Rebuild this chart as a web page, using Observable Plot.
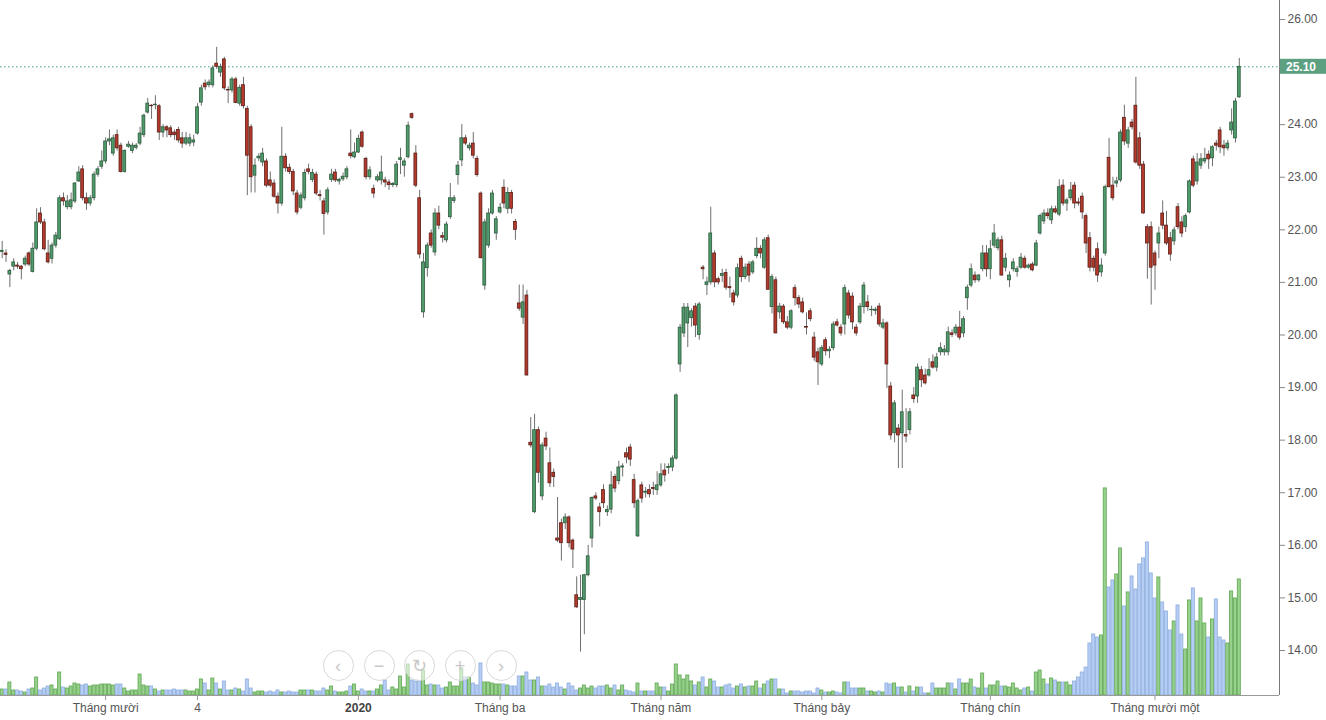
<!DOCTYPE html>
<html><head><meta charset="utf-8">
<script src="https://cdn.jsdelivr.net/npm/d3@7"></script>
<script src="https://cdn.jsdelivr.net/npm/@observablehq/plot@0.6"></script>
<style>
html,body{margin:0;padding:0;background:#fff;}
#wrap{position:relative;width:1326px;height:720px;overflow:hidden;background:#fff;}
#wrap svg{position:absolute;left:0;top:0;}
.zb{position:absolute;width:31px;height:31px;border-radius:50%;border:1px solid #d9d9d9;background:rgba(255,255,255,0.55);color:#c8c8c8;font:18px/30px "Liberation Sans",Arial,sans-serif;text-align:center;box-sizing:border-box;}
</style></head><body><div id="wrap"></div>
<script>
// ---- data ----
const opens = [
21.58,21.55,21.15,21.30,21.32,21.30,21.34,21.55,21.20,21.64,
22.31,22.14,21.55,21.45,21.70,21.82,22.60,22.43,22.43,22.54,
22.92,23.15,22.60,22.50,22.60,23.05,23.20,23.30,23.68,23.45,
23.80,23.60,23.10,23.58,23.50,23.56,23.64,23.80,24.23,24.36,
24.37,24.35,23.85,23.95,23.93,23.85,23.90,23.74,23.64,23.64,
23.66,23.83,24.42,24.78,24.75,24.75,25.16,24.99,25.24,24.66,
24.65,24.86,24.40,24.75,24.30,23.95,23.03,23.36,23.28,23.30,
22.94,22.88,22.63,22.50,23.39,23.18,23.10,22.69,22.42,22.60,
23.15,22.95,23.05,22.66,22.54,22.33,22.95,23.09,22.92,22.96,
23.00,23.45,23.38,23.47,23.85,23.35,23.00,22.78,22.94,22.94,
22.94,22.90,22.85,22.85,23.33,23.22,23.38,24.20,23.45,22.60,
20.43,21.27,21.93,21.57,22.31,21.88,21.80,22.24,22.55,23.04,
23.32,23.74,23.55,23.64,23.35,22.69,20.94,21.70,22.31,21.93,
22.33,22.80,22.40,22.70,22.15,20.60,20.33,20.75,17.95,16.63,
18.19,16.93,18.03,17.56,17.38,16.13,16.42,16.42,16.53,16.09,
15.05,14.96,14.96,15.43,16.13,16.93,16.72,17.05,16.63,16.68,
17.30,17.22,17.48,17.75,17.86,17.24,16.17,17.14,17.00,17.05,
17.09,17.05,17.14,17.42,17.47,17.48,17.65,19.44,20.03,20.22,
20.32,20.54,20.00,21.28,20.95,21.00,21.55,21.06,21.12,21.18,
20.91,20.79,20.75,21.45,21.10,21.34,21.19,21.50,21.64,21.28,
21.84,20.53,21.04,20.43,20.54,20.24,20.14,20.89,20.70,20.62,
20.15,20.45,19.95,19.67,19.44,19.90,19.69,19.75,20.24,20.14,
20.20,20.79,20.73,20.14,20.24,20.53,20.62,20.47,20.46,20.54,
20.14,20.22,19.02,18.13,18.22,18.13,18.10,18.19,18.85,18.83,
19.33,19.23,19.23,19.48,19.38,19.67,19.67,19.67,20.03,20.03,
20.14,20.03,20.70,20.94,21.13,21.04,21.25,21.55,21.25,21.70,
21.65,21.80,21.28,21.04,21.25,21.20,21.28,21.45,21.28,21.34,
21.32,21.93,22.16,22.31,22.18,22.39,22.29,22.84,22.50,22.60,
22.84,22.52,22.63,22.26,21.84,21.45,21.63,21.19,21.55,23.37,
22.84,22.88,22.94,24.13,23.64,24.04,24.36,23.74,23.24,22.05,
22.05,21.55,21.74,22.31,22.08,21.84,21.78,22.43,22.14,22.05,
22.33,23.34,22.92,23.22,23.30,23.43,23.36,23.64,23.89,23.60,
23.55,23.89,23.74,24.52];
const highs = [
21.78,21.62,21.25,21.45,21.38,21.32,21.50,21.58,21.75,22.40,
22.42,22.20,21.80,21.75,21.95,22.65,22.70,22.65,22.70,22.90,
23.20,23.22,22.70,22.65,23.10,23.20,23.50,23.75,23.90,23.80,
23.90,23.65,23.52,23.68,23.65,23.64,23.95,24.20,24.50,24.38,
24.55,24.38,24.00,23.98,23.98,23.90,23.95,23.85,23.85,23.82,
23.80,24.40,24.75,24.85,24.85,25.12,25.47,25.15,25.28,24.72,
24.90,24.90,24.75,24.90,24.35,24.00,23.35,23.45,23.55,23.35,
23.10,22.95,22.70,23.95,23.45,23.25,23.15,22.75,22.70,23.15,
23.25,23.15,23.10,22.75,22.60,22.80,23.15,23.15,22.98,23.08,
23.20,23.90,23.65,23.80,23.88,23.38,23.20,22.85,23.05,23.40,
23.00,22.95,22.90,23.30,23.55,23.35,24.05,24.22,23.60,22.75,
21.55,21.75,22.00,22.40,22.45,21.95,22.15,22.88,22.65,23.30,
24.00,23.80,23.65,23.85,23.40,22.72,22.20,22.40,22.75,22.25,
22.50,22.95,22.80,22.75,22.20,20.95,20.95,20.85,18.43,18.49,
18.25,17.95,18.15,17.85,17.45,16.91,16.50,16.60,16.56,16.12,
15.40,15.43,15.45,16.00,16.92,17.00,16.80,17.15,16.75,17.40,
17.35,17.60,17.55,17.85,17.92,17.35,16.88,17.20,17.10,17.15,
17.20,17.40,17.55,17.55,17.55,17.70,18.88,20.20,20.60,20.60,
20.50,20.60,20.62,21.32,21.10,22.43,21.60,21.10,21.25,21.25,
21.10,20.85,21.35,21.50,21.35,21.40,21.42,21.85,21.70,21.85,
21.90,21.15,21.10,20.60,20.58,20.35,20.48,20.95,20.75,20.70,
20.42,20.50,20.05,19.75,19.80,19.95,19.78,20.25,20.30,20.20,
20.95,20.85,20.80,20.20,20.60,21.00,20.75,20.55,20.52,20.60,
20.30,20.25,19.10,18.75,18.30,18.95,18.60,18.60,19.00,19.45,
19.40,19.35,19.55,19.62,19.65,19.85,19.80,20.15,20.10,20.20,
20.45,20.35,20.95,21.35,21.20,21.15,21.70,21.70,21.80,22.10,
21.85,21.88,21.55,21.20,21.45,21.30,21.55,21.50,21.35,21.38,
21.80,22.30,22.38,22.40,22.45,22.45,22.95,22.95,22.60,22.90,
22.90,22.60,22.70,22.30,21.95,21.50,21.75,21.45,22.85,23.74,
23.00,23.00,23.90,24.37,23.95,24.10,24.90,23.85,23.30,22.10,
22.15,21.60,22.05,22.55,22.35,21.95,22.05,22.50,22.25,22.30,
22.95,23.40,23.45,23.45,23.55,23.50,23.60,23.70,23.95,23.70,
23.70,24.30,24.50,25.26];
const lows = [
21.45,21.38,20.90,21.22,21.25,21.05,21.30,21.30,21.18,21.60,
22.10,21.60,21.35,21.35,21.65,21.80,22.45,22.38,22.38,22.50,
22.90,22.55,22.37,22.45,22.55,23.00,23.15,23.25,23.60,23.40,
23.50,23.08,23.08,23.55,23.45,23.52,23.60,23.75,24.20,24.10,
24.28,23.70,23.75,23.75,23.75,23.70,23.65,23.55,23.60,23.58,
23.58,23.80,24.35,24.65,24.70,24.70,25.05,24.90,24.65,24.40,
24.60,24.40,24.35,24.30,22.65,22.70,22.70,23.30,23.20,22.80,
22.80,22.60,22.30,22.45,23.10,23.05,22.65,22.28,22.38,22.55,
23.05,22.90,22.65,22.55,21.90,22.28,22.90,22.90,22.85,22.92,
22.95,23.35,23.35,23.45,23.55,22.95,22.95,22.60,22.90,22.85,
22.80,22.75,22.80,22.80,23.05,23.00,23.35,24.10,22.80,21.45,
20.32,21.10,21.65,21.50,22.00,21.75,21.75,22.20,22.50,22.85,
23.20,23.60,23.50,23.35,23.00,21.45,20.85,21.65,22.28,21.80,
22.30,22.40,22.30,22.30,21.80,20.45,20.20,19.22,17.85,16.60,
17.18,16.85,17.80,17.10,17.10,16.05,15.70,16.30,15.95,15.56,
14.80,13.97,14.30,15.40,15.95,16.85,16.35,16.70,16.55,16.60,
17.00,17.15,17.30,17.55,17.50,16.70,16.15,16.80,16.90,16.90,
16.95,16.95,17.10,17.20,17.35,17.40,17.62,19.29,19.95,19.76,
20.15,19.95,19.90,21.05,20.75,20.95,20.90,20.95,21.00,20.85,
20.70,20.55,20.70,21.00,21.05,21.00,21.15,21.45,21.45,21.25,
20.85,20.40,20.02,20.30,20.20,20.10,20.10,20.55,20.50,20.40,
20.00,20.25,19.50,19.04,19.40,19.60,19.55,19.70,20.15,19.98,
20.00,20.30,20.10,19.98,20.20,20.40,20.45,20.35,20.38,20.15,
20.10,18.98,18.00,17.95,17.46,17.46,17.95,18.10,18.70,18.70,
19.00,19.05,19.20,19.35,19.30,19.60,19.60,19.60,19.95,19.98,
19.90,19.95,20.47,20.90,20.98,21.00,21.20,21.10,21.05,21.65,
21.60,21.12,21.20,20.90,21.20,21.10,21.25,21.25,21.25,21.20,
21.30,21.90,22.10,22.20,22.10,22.30,22.25,22.45,22.35,22.55,
22.40,22.45,22.20,21.55,21.20,21.20,21.00,21.10,21.50,22.80,
22.55,22.80,22.90,23.60,23.55,23.90,23.25,23.15,22.30,21.06,
20.57,20.85,21.45,22.00,21.70,21.40,21.70,22.00,21.85,21.95,
22.30,22.80,22.85,23.15,23.25,23.15,23.20,23.50,23.45,23.40,
23.50,23.80,23.65,24.50];
const closes = [
21.60,21.52,21.22,21.38,21.30,21.25,21.45,21.34,21.64,22.14,
22.14,21.63,21.38,21.70,21.89,22.60,22.54,22.54,22.56,22.88,
23.09,22.60,22.50,22.60,23.05,23.15,23.30,23.68,23.72,23.74,
23.55,23.10,23.50,23.62,23.60,23.60,23.83,24.17,24.40,24.35,
24.38,23.85,23.95,23.89,23.80,23.80,23.70,23.64,23.74,23.74,
23.70,24.33,24.69,24.71,24.80,25.07,25.10,25.10,24.69,24.65,
24.86,24.41,24.70,24.35,23.41,23.00,23.22,23.39,23.45,22.84,
22.84,22.63,22.50,23.39,23.17,23.10,22.73,22.33,22.65,23.08,
23.10,23.08,22.69,22.64,22.30,22.75,23.05,22.94,22.95,23.01,
23.15,23.40,23.47,23.73,23.58,23.00,23.13,22.69,23.00,23.09,
22.90,22.85,22.87,23.24,23.36,23.30,23.98,24.13,22.84,21.53,
21.38,21.70,21.70,22.31,22.08,21.85,22.10,22.60,22.60,23.22,
23.74,23.64,23.60,23.41,23.04,21.46,22.14,22.31,22.69,22.20,
22.42,22.50,22.70,22.40,22.00,20.50,20.62,19.23,17.90,18.19,
17.38,17.90,17.88,17.18,17.30,16.09,16.04,16.53,16.04,15.92,
14.82,15.00,15.43,15.79,16.90,16.89,16.63,16.80,16.67,17.14,
17.08,17.48,17.50,17.67,17.63,16.80,16.84,16.89,17.02,16.97,
17.07,17.14,17.35,17.33,17.49,17.65,18.85,20.14,20.52,20.52,
20.45,20.18,20.58,21.25,21.00,21.93,21.00,21.00,21.16,20.90,
20.89,20.62,21.27,21.10,21.28,21.13,21.38,21.64,21.55,21.80,
20.86,21.10,20.03,20.54,20.24,20.14,20.45,20.70,20.58,20.43,
20.14,20.30,19.57,19.48,19.75,19.69,19.72,20.20,20.18,20.03,
20.89,20.37,20.24,20.03,20.54,20.94,20.53,20.48,20.48,20.20,
20.22,19.44,18.09,18.70,18.09,18.53,18.07,18.53,18.78,19.38,
19.14,19.08,19.33,19.38,19.57,19.75,19.72,20.05,20.00,20.14,
19.95,20.30,20.90,21.25,21.04,21.13,21.55,21.25,21.63,21.93,
21.80,21.13,21.45,21.13,21.38,21.25,21.47,21.28,21.32,21.23,
21.74,22.26,22.31,22.26,22.39,22.33,22.81,22.50,22.56,22.75,
22.50,22.50,22.33,21.74,21.28,21.28,21.13,21.32,22.81,22.81,
22.60,22.92,23.85,23.68,23.89,23.95,23.28,23.22,22.31,21.74,
21.28,21.32,21.93,22.08,21.74,21.53,21.99,22.05,21.93,22.26,
22.92,22.84,23.28,23.34,23.35,23.34,23.57,23.60,23.57,23.55,
23.64,24.04,24.44,25.10];
// volume, in units of 10,000 shares (estimated)
const volumes = [
6,6,13,5,5,4,3,6,7,18, 5,7,9,10,6,23,8,7,9,12,
11,10,11,9,10,10,11,11,11,10, 11,11,7,4,5,5,21,10,9,9,
6,4,5,5,5,6,5,5,5,4, 4,6,16,12,5,17,12,6,14,5,
5,7,6,4,16,7,3,4,4,3, 4,3,5,3,3,4,3,3,5,5,
5,5,4,4,7,5,9,4,3,3, 4,9,11,4,6,4,4,4,6,10,
15,5,8,6,19,8,31,15,14,14, 25,10,11,10,10,7,8,13,9,9,
27,18,18,12,10,32,13,13,12,11, 11,11,10,9,9,19,19,23,15,15,
18,9,9,11,8,12,8,6,12,9, 5,7,10,7,9,7,9,9,10,7,
10,5,10,5,4,3,12,4,4,4, 4,12,8,8,4,11,31,20,16,20,
14,10,13,18,8,16,14,8,8,10, 11,7,9,11,8,9,9,14,7,11,
14,16,16,6,6,2,4,4,4,3, 4,4,2,7,5,3,3,4,3,2,
13,13,7,7,7,7,4,4,3,4, 3,12,11,12,8,8,3,9,4,8,
8,2,2,12,7,7,7,12,12,6, 16,12,12,16,8,7,22,7,10,10,
14,9,9,8,12,7,5,7,8,4, 23,25,16,11,17,15,13,13,13,10,
14,18,23,28,52,61,58,60,207,108, 115,121,147,89,103,119,106,131,137,153,
122,97,118,93,84,65,74,90,61,46, 95,107,74,97,72,58,76,96,58,55,
52,104,97,116];
const tickIndex = [27, 51, 93, 130, 172, 214, 258, 301];
const tickLabels = ["Tháng mười", "4", "2020", "Tháng ba", "Tháng năm", "Tháng bảy", "Tháng chín", "Tháng mười một"];
const boldTicks = ["2020"];
// 25.00 is hidden in the reference behind the last-price marker
const priceTicks = [14, 15, 16, 17, 18, 19, 20, 21, 22, 23, 24, 26];
const lastPrice = 25.10;

// ---- build ----
const candles = opens.map((o, i) => ({
  i, open: o, high: highs[i], low: lows[i], close: closes[i], volume: volumes[i], up: closes[i] >= o
}));
const labelOf = new Map(tickIndex.map((t, k) => [t, tickLabels[k]]));
const W = 1326, H = 720;
const M = {marginLeft: 0, marginRight: 47, marginTop: 0, marginBottom: 25};
const xDomain = [-0.444, 333.5];
const priceDomain = [13.144, 26.361];
const font = '"Liberation Sans", Arial, Helvetica, sans-serif';

const volPlot = Plot.plot({
  width: W, height: H, ...M,
  style: {background: "transparent", fontFamily: font},
  x: {type: "linear", domain: xDomain, axis: null},
  y: {domain: [0, d3.max(volumes) / 0.298], axis: null},
  color: {type: "identity"},
  marks: [
    Plot.rect(candles, {
      x1: d => d.i - 0.4, x2: d => d.i + 0.4, y1: () => 0, y2: "volume",
      fill: d => d.up ? "#97d18c" : "#b6cdf4",
      stroke: d => d.up ? "#5fa653" : "#8eaedf", strokeWidth: 0.8
    })
  ]
});

const pricePlot = Plot.plot({
  width: W, height: H, ...M,
  style: {background: "transparent", fontFamily: font, fontSize: "12px", color: "#555"},
  x: {type: "linear", domain: xDomain, axis: null},
  y: {domain: priceDomain, axis: null},
  color: {type: "identity"},
  marks: [
    Plot.ruleY([lastPrice], {stroke: "#3f9a8c", strokeDasharray: "1.5,2.5", strokeWidth: 1}),
    Plot.ruleX(candles, {x: "i", y1: "low", y2: "high", stroke: "#6e6e6e", strokeWidth: 1}),
    Plot.rect(candles, {
      x1: d => d.i - 0.37, x2: d => d.i + 0.37, y1: "open", y2: "close",
      fill: d => d.up ? "#4f9b6b" : "#b43a2d",
      stroke: d => d.up ? "#2c5a3c" : "#5b1d15", strokeWidth: 0.8
    }),
    Plot.ruleX([xDomain[1]], {stroke: "#7a7a7a"}),
    Plot.ruleY([priceDomain[0]], {stroke: "#9a9a9a"}),
    Plot.axisY(priceTicks, {anchor: "right", tickSize: 5, tickPadding: 3, tickFormat: d3.format(".2f"),
      stroke: "#888", fill: "#555", label: null, fontSize: 12}),
    Plot.axisX(tickIndex.filter(t => !boldTicks.includes(labelOf.get(t))), {anchor: "bottom", tickSize: 5, tickPadding: 3,
      tickFormat: d => labelOf.get(d), stroke: "#999", fill: "#555", label: null, fontSize: 12}),
    Plot.axisX(tickIndex.filter(t => boldTicks.includes(labelOf.get(t))), {anchor: "bottom", tickSize: 5, tickPadding: 3,
      tickFormat: d => labelOf.get(d), stroke: "#999", fill: "#444", label: null, fontSize: 12, fontWeight: "bold"})
  ]
});

// last price label on the right axis
const ys = pricePlot.scale("y");
const yLast = ys.apply(lastPrice);
const svgSel = d3.select(pricePlot);
svgSel.append("line").attr("x1", W - M.marginRight).attr("x2", W - M.marginRight + 5)
  .attr("y1", yLast).attr("y2", yLast).attr("stroke", "#888");
svgSel.append("rect").attr("x", W - M.marginRight + 1).attr("y", yLast - 7.5)
  .attr("width", M.marginRight - 1).attr("height", 15).attr("fill", "#5d9f81");
svgSel.append("text").attr("x", W - M.marginRight + 7).attr("y", yLast).attr("dy", "0.35em")
  .attr("text-anchor", "start")
  .attr("fill", "#fff").attr("font-size", 12).attr("font-weight", "bold").attr("font-family", font)
  .text(lastPrice.toFixed(2));

const wrap = document.getElementById("wrap");
wrap.appendChild(volPlot);
wrap.appendChild(pricePlot);

// navigation buttons overlay
const buttons = ["‹", "−", "↻", "+", "›"];
const btnCenters = [338, 379, 419, 460, 501];
buttons.forEach((g, k) => {
  const b = document.createElement("div");
  b.className = "zb";
  b.style.left = (btnCenters[k] - 15.5) + "px";
  b.style.top = (665 - 15.5) + "px";
  b.textContent = g;
  wrap.appendChild(b);
});
</script>
</body></html>
